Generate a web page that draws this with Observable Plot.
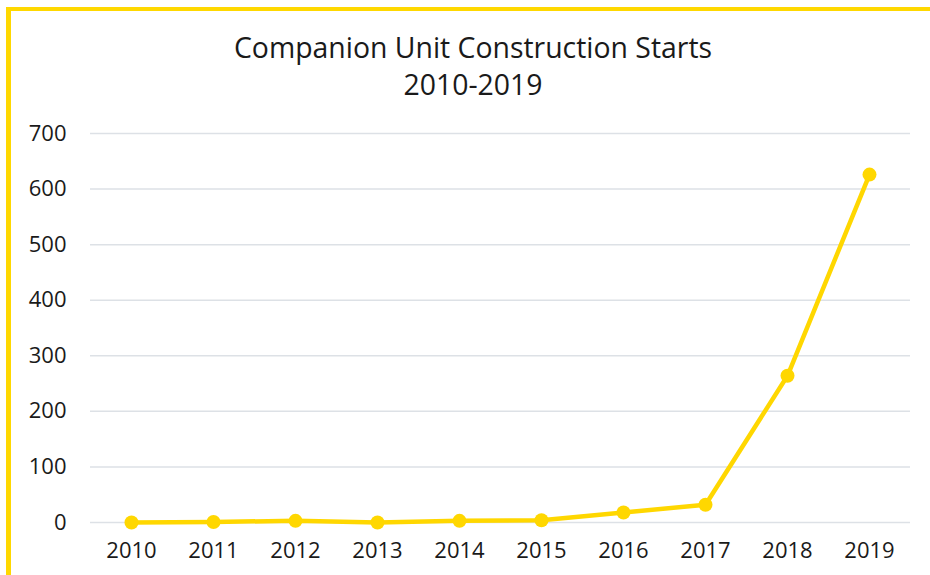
<!DOCTYPE html>
<html>
<head>
<meta charset="utf-8">
<script src="https://cdn.jsdelivr.net/npm/d3@7"></script>
<script src="https://cdn.jsdelivr.net/npm/@observablehq/plot@0.6"></script>
<style>
  html, body { margin: 0; padding: 0; background: #fff; overflow: hidden; }
  #wrap { position: relative; width: 930px; height: 575px; overflow: hidden; font-family: "Open Sans", "Noto Sans", sans-serif; }
  #frame { position: absolute; left: 6px; top: 7px; width: 1000px; height: 700px; border-left: 5px solid #FFD800; border-top: 4px solid #FFD800; box-sizing: border-box; }
  #title { position: absolute; left: 0; top: 29px; width: 946px; text-align: center; font-size: 28.4px; line-height: 37px; color: #1a1a1a; }
  #chart { position: absolute; left: 0; top: 110px; }
</style>
</head>
<body>
<div id="wrap">
  <div id="frame"></div>
  <div id="title">Companion Unit Construction Starts<br>2010-2019</div>
  <div id="chart"></div>
</div>
<script>
const years = ["2010","2011","2012","2013","2014","2015","2016","2017","2018","2019"];
const starts = [0, 1, 3, 0, 3, 4, 18, 32, 264, 626];
const yTicks = [0, 100, 200, 300, 400, 500, 600, 700];

const data = years.map((y, i) => ({year: y, value: starts[i]}));

const chart = Plot.plot({
  width: 930,
  height: 465,
  marginLeft: 90,
  marginRight: 20,
  marginTop: 23,
  marginBottom: 53,
  style: {fontFamily: "'Open Sans', 'Noto Sans', sans-serif", fontSize: "22px", color: "#1a1a1a", background: "transparent"},
  x: {type: "point", domain: years, padding: 0.5, label: null},
  y: {domain: [0, 700], ticks: yTicks, label: null},
  marks: [
    Plot.gridY(yTicks, {stroke: "#dde1e6", strokeOpacity: 1, strokeWidth: 1.5}),
    Plot.axisY(yTicks, {tickSize: 0, tickPadding: 24, label: null, fontSize: 22}),
    Plot.axisX(years, {tickSize: 0, tickPadding: 20, label: null, fontSize: 22}),
    Plot.line(data, {x: "year", y: "value", stroke: "#FFD700", strokeWidth: 4.5}),
    Plot.dot(data, {x: "year", y: "value", fill: "#FFD700", r: 7})
  ]
});
document.getElementById("chart").appendChild(chart);
</script>
</body>
</html>
